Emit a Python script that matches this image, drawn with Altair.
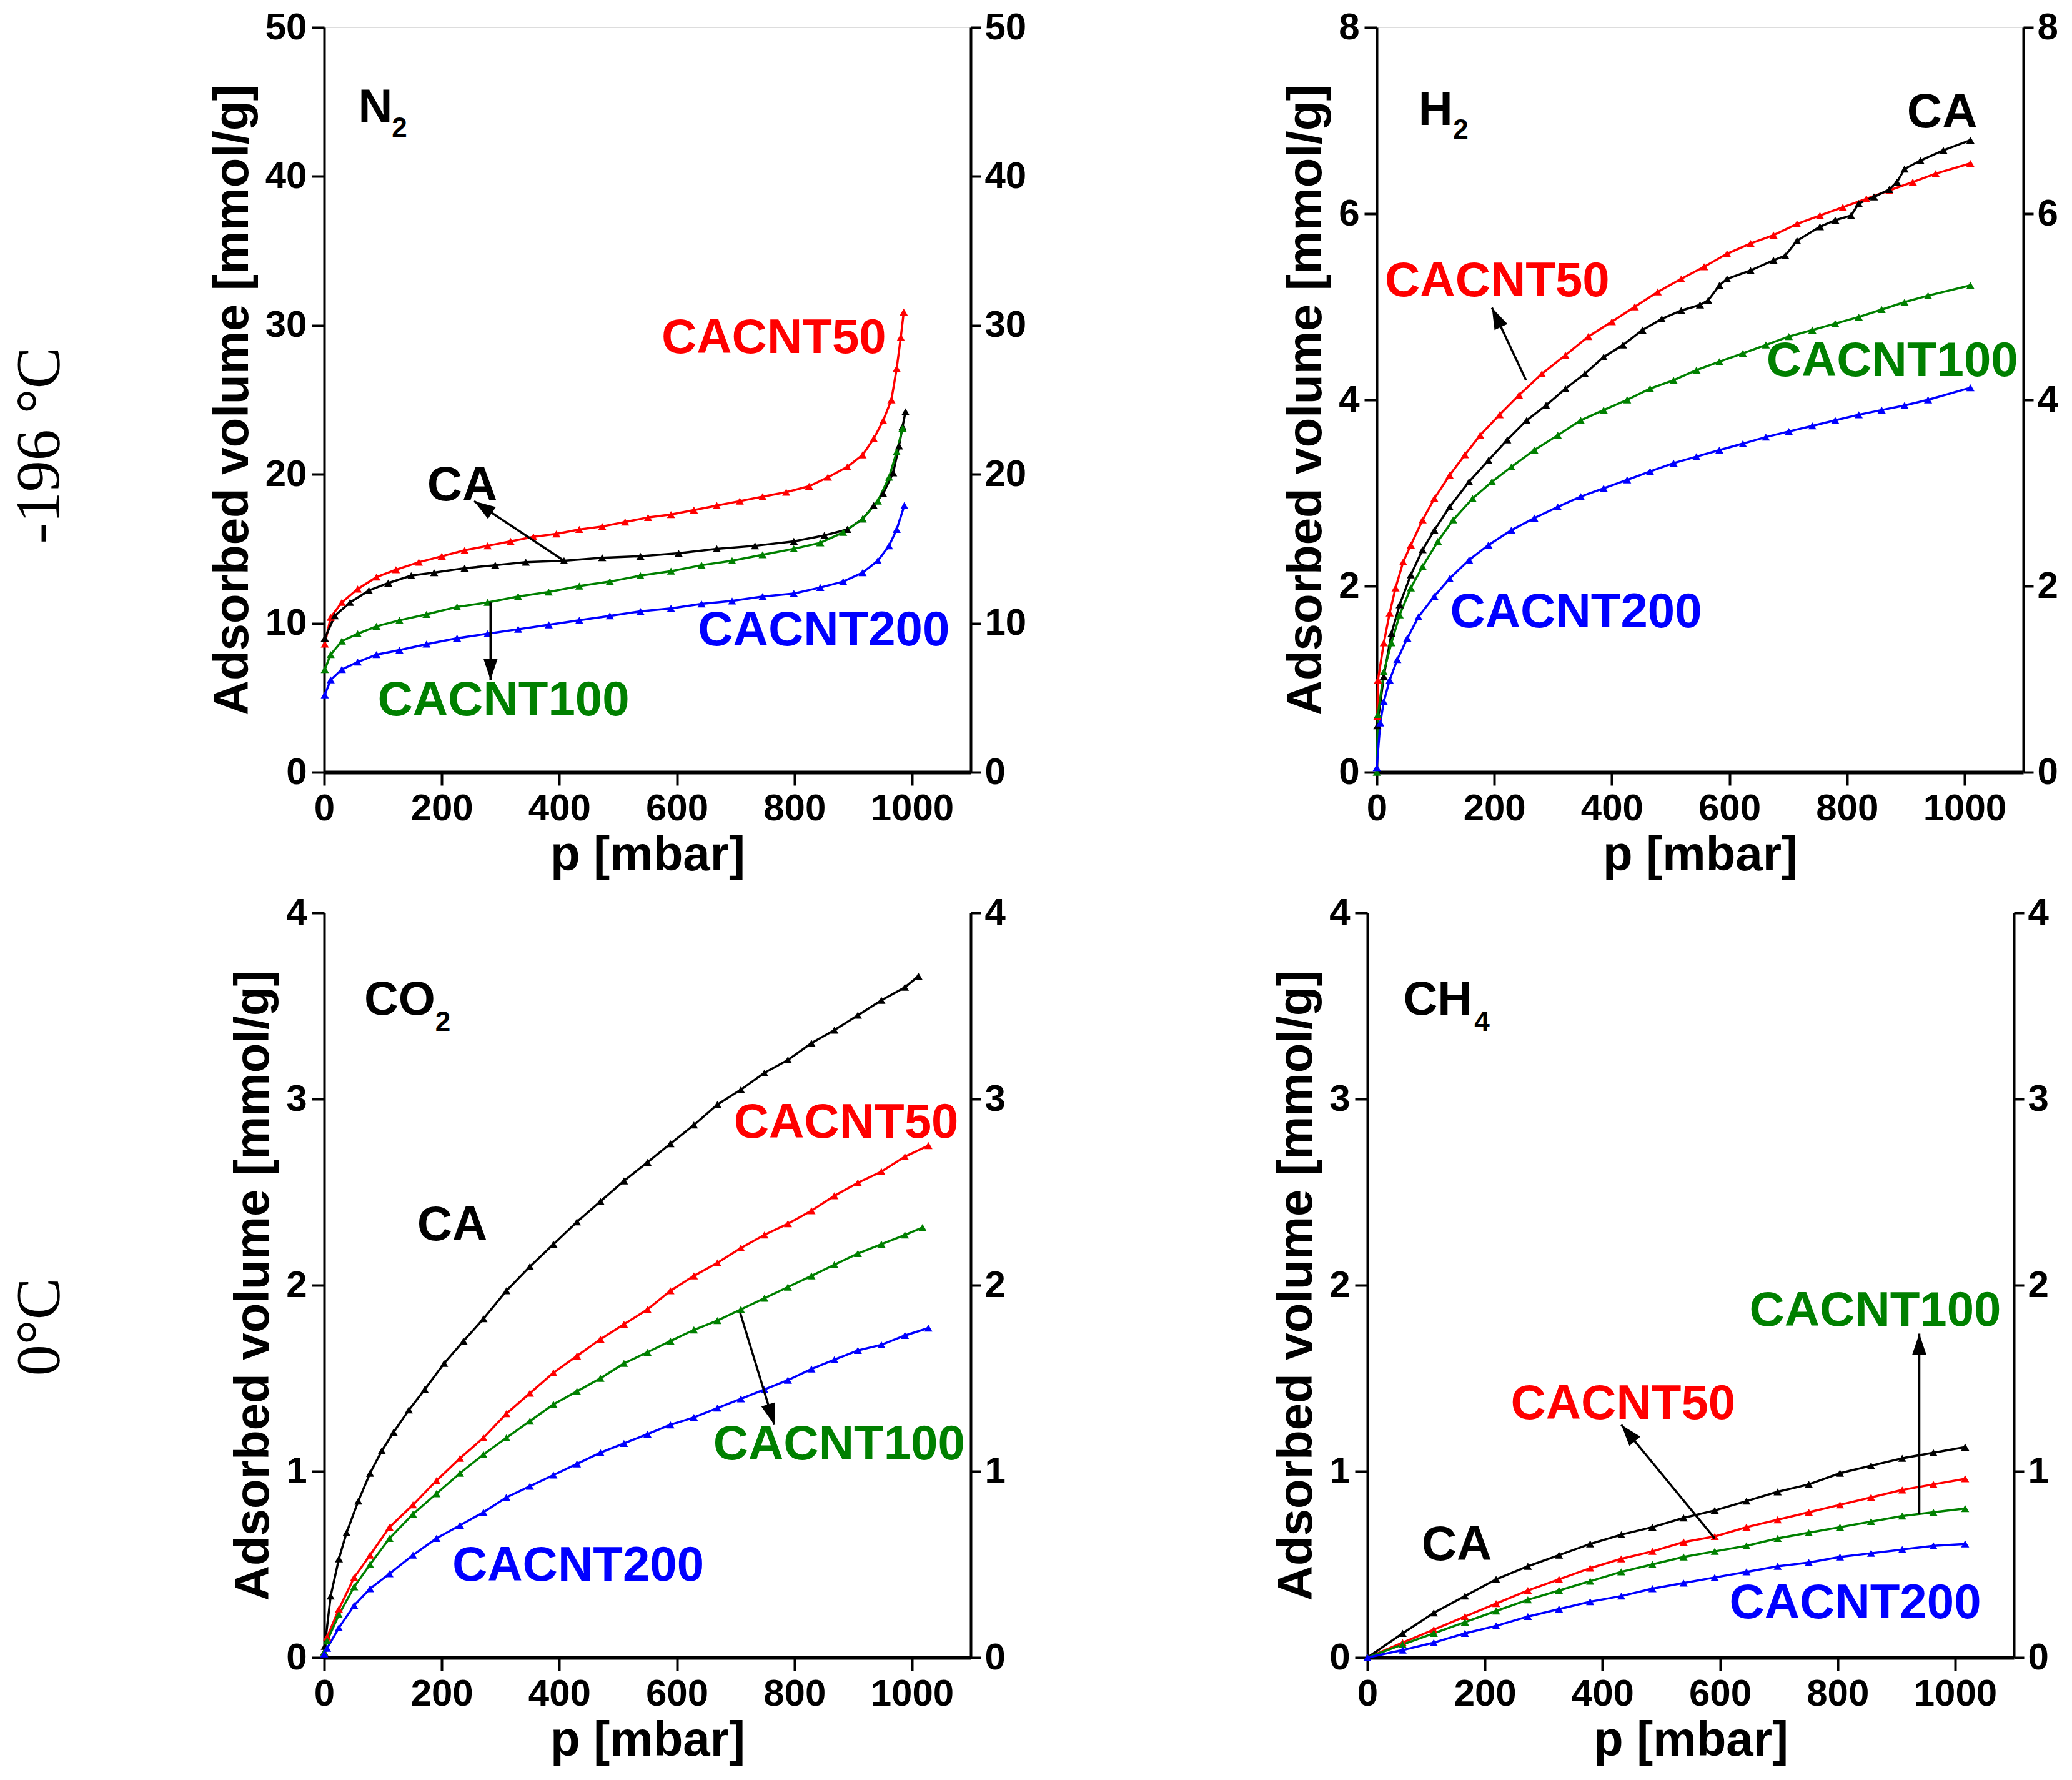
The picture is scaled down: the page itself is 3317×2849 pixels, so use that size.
import math
import altair as alt
import pandas as pd

# ------------------------------------------------------------------ data
# N2 at -196 C
N2_CA_P = [1, 18, 44, 76, 109, 148, 187, 239, 291, 343, 408, 473, 538, 603, 668, 733, 799, 851, 890, 916, 935, 951, 968, 978, 984, 989]
N2_CA_V = [9.0, 10.5, 11.4, 12.2, 12.7, 13.2, 13.4, 13.7, 13.9, 14.1, 14.2, 14.4, 14.5, 14.7, 15.0, 15.2, 15.5, 15.9, 16.3, 17.0, 17.9, 18.7, 20.1, 21.9, 23.2, 24.2]
N2_50_P = [1, 11, 30, 57, 89, 122, 161, 200, 239, 278, 317, 356, 395, 434, 473, 512, 551, 590, 629, 668, 707, 746, 786, 825, 857, 890, 916, 935, 951, 965, 974, 981, 986]
N2_50_V = [8.6, 10.4, 11.4, 12.3, 13.1, 13.6, 14.1, 14.5, 14.9, 15.2, 15.5, 15.8, 16.0, 16.3, 16.5, 16.8, 17.1, 17.3, 17.6, 17.9, 18.2, 18.5, 18.8, 19.2, 19.8, 20.5, 21.3, 22.4, 23.6, 25.0, 27.1, 29.2, 30.9]
N2_100_P = [1, 11, 30, 57, 89, 128, 174, 226, 278, 330, 382, 434, 486, 538, 590, 642, 694, 746, 799, 844, 883, 916, 942, 961, 974, 984]
N2_100_V = [6.9, 7.9, 8.8, 9.3, 9.8, 10.2, 10.6, 11.1, 11.4, 11.8, 12.1, 12.5, 12.8, 13.2, 13.5, 13.9, 14.2, 14.6, 15.0, 15.4, 16.1, 17.0, 18.2, 19.8, 21.5, 23.1]
N2_200_P = [1, 11, 30, 57, 89, 128, 174, 226, 278, 330, 382, 434, 486, 538, 590, 642, 694, 746, 799, 844, 883, 916, 942, 961, 974, 987]
N2_200_V = [5.2, 6.2, 6.9, 7.4, 7.9, 8.2, 8.6, 9.0, 9.3, 9.6, 9.9, 10.2, 10.5, 10.8, 11.0, 11.3, 11.5, 11.8, 12.0, 12.4, 12.8, 13.4, 14.2, 15.2, 16.3, 17.9]

# H2 at -196 C
H2_CA_P = [1, 12, 25, 39, 58, 78, 98, 124, 157, 190, 222, 255, 288, 321, 354, 386, 419, 452, 485, 518, 550, 564, 583, 596, 636, 675, 695, 715, 754, 780, 807, 820, 846, 872, 885, 898, 925, 964, 1010]
H2_CA_V = [0.5, 1.03, 1.49, 1.80, 2.12, 2.39, 2.60, 2.85, 3.12, 3.35, 3.57, 3.78, 3.94, 4.12, 4.28, 4.46, 4.59, 4.75, 4.87, 4.96, 5.02, 5.07, 5.23, 5.30, 5.39, 5.50, 5.55, 5.71, 5.86, 5.93, 5.98, 6.11, 6.18, 6.26, 6.34, 6.48, 6.57, 6.68, 6.79]
H2_50_P = [1, 2, 12, 22, 32, 45, 58, 78, 98, 124, 150, 176, 209, 242, 281, 321, 360, 400, 439, 478, 518, 557, 596, 636, 675, 715, 754, 793, 833, 872, 912, 951, 1010]
H2_50_V = [0.6, 0.99, 1.39, 1.71, 1.98, 2.26, 2.44, 2.71, 2.94, 3.19, 3.41, 3.62, 3.84, 4.05, 4.28, 4.48, 4.68, 4.84, 5.00, 5.16, 5.30, 5.43, 5.57, 5.68, 5.77, 5.89, 5.98, 6.07, 6.16, 6.25, 6.34, 6.43, 6.54]
H2_100_P = [0, 2, 12, 25, 39, 58, 78, 104, 130, 163, 196, 229, 268, 308, 347, 386, 426, 465, 505, 544, 583, 623, 662, 701, 741, 780, 820, 859, 898, 938, 1010]
H2_100_V = [0, 0.62, 1.08, 1.39, 1.69, 1.98, 2.21, 2.48, 2.71, 2.94, 3.12, 3.28, 3.46, 3.62, 3.78, 3.89, 4.00, 4.12, 4.21, 4.32, 4.41, 4.50, 4.59, 4.68, 4.75, 4.82, 4.89, 4.97, 5.05, 5.12, 5.23]
H2_200_P = [0, 6, 12, 22, 35, 52, 71, 98, 124, 157, 190, 229, 268, 308, 347, 386, 426, 465, 505, 544, 583, 623, 662, 701, 741, 780, 820, 859, 898, 938, 1010]
H2_200_V = [0.05, 0.53, 0.76, 0.99, 1.21, 1.44, 1.67, 1.89, 2.08, 2.28, 2.44, 2.60, 2.73, 2.85, 2.96, 3.05, 3.14, 3.23, 3.32, 3.39, 3.46, 3.53, 3.60, 3.66, 3.72, 3.78, 3.84, 3.89, 3.94, 4.00, 4.13]

# CO2 at 0 C
CO2_CA_P = [1, 11, 25, 38, 58, 78, 98, 118, 144, 171, 204, 237, 271, 310, 350, 390, 430, 470, 510, 550, 589, 629, 669, 709, 749, 789, 829, 868, 908, 948, 988, 1011]
CO2_CA_V = [0.06, 0.33, 0.53, 0.67, 0.84, 0.99, 1.11, 1.21, 1.33, 1.44, 1.58, 1.70, 1.82, 1.97, 2.10, 2.22, 2.34, 2.45, 2.56, 2.66, 2.76, 2.86, 2.97, 3.05, 3.14, 3.21, 3.30, 3.37, 3.45, 3.53, 3.60, 3.66]
CO2_50_P = [0, 5, 25, 51, 78, 111, 151, 191, 231, 271, 310, 350, 390, 430, 470, 510, 550, 589, 629, 669, 709, 749, 789, 829, 868, 908, 948, 988, 1028]
CO2_50_V = [0.03, 0.11, 0.26, 0.43, 0.55, 0.70, 0.82, 0.95, 1.07, 1.18, 1.31, 1.42, 1.53, 1.62, 1.71, 1.79, 1.87, 1.97, 2.05, 2.12, 2.20, 2.27, 2.33, 2.40, 2.48, 2.55, 2.61, 2.69, 2.75]
CO2_100_P = [0, 5, 25, 51, 78, 111, 151, 191, 231, 271, 310, 350, 390, 430, 470, 510, 550, 589, 629, 669, 709, 749, 789, 829, 868, 908, 948, 988, 1018]
CO2_100_V = [0.03, 0.09, 0.23, 0.38, 0.50, 0.64, 0.77, 0.88, 0.99, 1.09, 1.18, 1.27, 1.36, 1.43, 1.50, 1.58, 1.64, 1.70, 1.76, 1.81, 1.87, 1.93, 1.99, 2.05, 2.11, 2.17, 2.22, 2.27, 2.31]
CO2_200_P = [0, 5, 25, 51, 78, 111, 151, 191, 231, 271, 310, 350, 390, 430, 470, 510, 550, 589, 629, 669, 709, 749, 789, 829, 868, 908, 948, 988, 1028]
CO2_200_V = [0.02, 0.05, 0.16, 0.28, 0.37, 0.45, 0.55, 0.64, 0.71, 0.78, 0.86, 0.92, 0.98, 1.04, 1.10, 1.15, 1.20, 1.25, 1.29, 1.34, 1.39, 1.44, 1.49, 1.55, 1.60, 1.65, 1.68, 1.73, 1.77]

# CH4 at 0 C
CH4_P = [0, 60, 113, 166, 219, 273, 326, 379, 432, 485, 538, 591, 645, 698, 751, 804, 857, 910, 963, 1017]
CH4_CA_V = [0, 0.13, 0.24, 0.33, 0.42, 0.49, 0.55, 0.61, 0.66, 0.70, 0.75, 0.79, 0.84, 0.89, 0.93, 0.99, 1.03, 1.07, 1.10, 1.13]
CH4_50_V = [0, 0.08, 0.15, 0.22, 0.29, 0.36, 0.42, 0.48, 0.53, 0.57, 0.62, 0.65, 0.70, 0.74, 0.78, 0.82, 0.86, 0.90, 0.93, 0.96]
CH4_100_V = [0, 0.07, 0.13, 0.19, 0.25, 0.31, 0.36, 0.41, 0.46, 0.50, 0.54, 0.57, 0.60, 0.64, 0.67, 0.70, 0.73, 0.76, 0.78, 0.80]
CH4_200_V = [0, 0.04, 0.08, 0.13, 0.17, 0.22, 0.26, 0.30, 0.33, 0.37, 0.40, 0.43, 0.46, 0.49, 0.51, 0.54, 0.56, 0.58, 0.60, 0.61]

X_TICKS = [0, 200, 400, 600, 800, 1000]
Y_TICKS_N2 = [0, 10, 20, 30, 40, 50]
Y_TICKS_H2 = [0, 2, 4, 6, 8]
Y_TICKS_0C = [0, 1, 2, 3, 4]

# annotation labels: (text, p, v, sample)
N2_LABELS = [("CACNT50", 765, 29.1, "CACNT50"), ("CA", 235, 19.2, "CA"),
             ("CACNT100", 305, 4.8, "CACNT100"), ("CACNT200", 850, 9.5, "CACNT200")]
H2_LABELS = [("CA", 962, 7.08, "CA"), ("CACNT50", 205, 5.27, "CACNT50"),
             ("CACNT100", 877, 4.41, "CACNT100"), ("CACNT200", 339, 1.71, "CACNT200")]
CO2_LABELS = [("CA", 218, 2.32, "CA"), ("CACNT50", 888, 2.87, "CACNT50"),
              ("CACNT100", 876, 1.14, "CACNT100"), ("CACNT200", 432, 0.49, "CACNT200")]
CH4_LABELS = [("CA", 152, 0.60, "CA"), ("CACNT50", 435, 1.36, "CACNT50"),
              ("CACNT100", 864, 1.86, "CACNT100"), ("CACNT200", 830, 0.29, "CACNT200")]

# arrows: (p_from, v_from, p_to, v_to)
N2_ARROWS = [(408, 14.2, 255, 18.2), (283, 11.4, 283, 6.2)]
H2_ARROWS = [(254, 4.21, 196, 4.99)]
CO2_ARROWS = [(708, 1.85, 766, 1.25)]
CH4_ARROWS = [(591, 0.64, 432, 1.25), (939, 0.77, 939, 1.74)]

# gas formula: (main, p_left, v, sub, p_sub, v_sub)
N2_FORMULA = ("N", 58, 44.6, "2", 128, 43.2)
H2_FORMULA = ("H", 71, 7.11, "2", 143, 6.89)
CO2_FORMULA = ("CO", 68, 3.53, "2", 202, 3.41)
CH4_FORMULA = ("CH", 61, 3.53, "4", 195, 3.41)

ROW_LABELS = ["-196 \u00b0C", "0\u00b0C"]

COLORS = {"CA": "#000000", "CACNT50": "#FF0000", "CACNT100": "#008000", "CACNT200": "#0000FF"}

# ------------------------------------------------------------------ styling
FONT = "Liberation Sans"
W, H = 1035, 1192
XMAX = 1100
ARROW_HEAD = "M0,0L0.42,1.25L-0.42,1.25Z"


def axis_style(**kw):
    d = dict(labelFont=FONT, labelFontWeight="bold", labelFontSize=60, labelColor="black",
             titleFont=FONT, titleFontWeight="bold", titleFontSize=78, titleColor="black",
             domainColor="black", tickColor="black", tickWidth=4, grid=False,
             labelFlush=False, labelOverlap=False, format="d")
    d.update(kw)
    return alt.Axis(**d)


def make_panel(series, ymax, yticks, labels, arrows, formula, row_label, row_dy, right_min):
    rows = []
    for name, p, v in series:
        for a, b in zip(p, v):
            rows.append({"s": name, "p": a, "v": b, "c": COLORS[name]})
    df = pd.DataFrame(rows)

    x_scale = alt.Scale(domain=[0, XMAX], nice=False, zero=False)
    x_enc = alt.X("p:Q", scale=x_scale,
                  axis=axis_style(values=X_TICKS, title="p [mbar]", domainWidth=6,
                                  tickSize=21, labelPadding=8, titlePadding=6))
    y_scale = alt.Scale(domain=[0, ymax], nice=False, zero=False)
    y_left = alt.Y("v:Q", scale=y_scale,
                   axis=axis_style(values=yticks, title="Adsorbed volume [mmol/g]", domainWidth=4,
                                   tickSize=20, labelPadding=8, titlePadding=12))
    y_right = alt.Y("v:Q", scale=y_scale,
                    axis=axis_style(values=yticks, title=None, orient="right", domainWidth=4,
                                    tickSize=16, labelPadding=6, minExtent=right_min))
    color = alt.Color("c:N", scale=None)

    base = alt.Chart(df)
    lines = base.mark_line(strokeWidth=3.5).encode(x=x_enc, y=y_left, color=color, detail="s:N")
    pts = base.mark_point(shape="triangle-up", filled=True, size=170, opacity=1).encode(
        x=x_enc, y=y_left, color=color)

    ldf = pd.DataFrame([{"t": t, "p": p, "v": v, "c": COLORS[s]} for t, p, v, s in labels])
    texts = alt.Chart(ldf).mark_text(font=FONT, fontWeight="bold", fontSize=78,
                                     align="center", baseline="middle").encode(
        x=x_enc, y=y_left, text="t:N", color=color)

    adf_rows = []
    for p0, v0, p1, v1 in arrows:
        dxp = (p1 - p0) * W / XMAX
        dyp = -(v1 - v0) * H / ymax
        ang = math.degrees(math.atan2(dxp, -dyp)) % 360
        adf_rows.append({"p": p0, "v": v0, "p2": p1, "v2": v1, "ang": ang})
    adf = pd.DataFrame(adf_rows)
    arrow_lines = alt.Chart(adf).mark_rule(color="black", strokeWidth=3.5).encode(
        x=x_enc, y=y_left, x2="p2:Q", y2="v2:Q")
    arrow_heads = alt.Chart(adf).mark_point(shape=ARROW_HEAD, filled=True, size=3000,
                                            opacity=1, color="black").encode(
        x=alt.X("p2:Q", scale=x_scale),
        y=alt.Y("v2:Q", scale=y_scale),
        angle=alt.Angle("ang:Q", scale=None))

    main_t, pm, vm, sub_t, ps, vs = formula
    fdf_main = pd.DataFrame([{"t": main_t, "p": pm, "v": vm}])
    fdf_sub = pd.DataFrame([{"t": sub_t, "p": ps, "v": vs}])
    f_main = alt.Chart(fdf_main).mark_text(font=FONT, fontWeight="bold", fontSize=76, align="left",
                                           baseline="middle", color="black").encode(
        x=x_enc, y=y_left, text="t:N")
    f_sub = alt.Chart(fdf_sub).mark_text(font=FONT, fontWeight="bold", fontSize=44, align="center",
                                         baseline="middle", color="black").encode(
        x=x_enc, y=y_left, text="t:N")

    layers = [lines, pts, texts, arrow_lines, arrow_heads, f_main, f_sub]
    if row_label is not None:
        rdf = pd.DataFrame([{"t": row_label}])
        rl = alt.Chart(rdf).mark_text(font="Liberation Serif", fontSize=100, angle=270,
                                      align="center", baseline="middle", color="black").encode(
            text="t:N", x=alt.value(-455), y=alt.value(row_dy))
        layers.append(rl)

    inner = alt.layer(*layers)
    right = base.mark_point(opacity=0).encode(x=x_enc, y=y_right)
    return alt.layer(inner, right).resolve_scale(y="independent").properties(width=W, height=H)


n2 = make_panel([("CACNT50", N2_50_P, N2_50_V), ("CA", N2_CA_P, N2_CA_V),
                 ("CACNT100", N2_100_P, N2_100_V), ("CACNT200", N2_200_P, N2_200_V)],
                50, Y_TICKS_N2, N2_LABELS, N2_ARROWS, N2_FORMULA, ROW_LABELS[0], 669, 0)
h2 = make_panel([("CACNT50", H2_50_P, H2_50_V), ("CA", H2_CA_P, H2_CA_V),
                 ("CACNT100", H2_100_P, H2_100_V), ("CACNT200", H2_200_P, H2_200_V)],
                8, Y_TICKS_H2, H2_LABELS, H2_ARROWS, H2_FORMULA, None, 0, 0)
co2 = make_panel([("CACNT50", CO2_50_P, CO2_50_V), ("CA", CO2_CA_P, CO2_CA_V),
                  ("CACNT100", CO2_100_P, CO2_100_V), ("CACNT200", CO2_200_P, CO2_200_V)],
                 4, Y_TICKS_0C, CO2_LABELS, CO2_ARROWS, CO2_FORMULA, ROW_LABELS[1], 663, 74)
ch4 = make_panel([("CACNT50", CH4_P, CH4_50_V), ("CA", CH4_P, CH4_CA_V),
                  ("CACNT100", CH4_P, CH4_100_V), ("CACNT200", CH4_P, CH4_200_V)],
                 4, Y_TICKS_0C, CH4_LABELS, CH4_ARROWS, CH4_FORMULA, None, 0, 0)

chart = alt.vconcat(
    alt.hconcat(n2, h2, spacing=408),
    alt.hconcat(co2, ch4, spacing=408),
    spacing=21,
).configure_view(stroke=None).configure(background="white")

chart.save("out.html", embed_options={"renderer": "svg", "actions": False})
